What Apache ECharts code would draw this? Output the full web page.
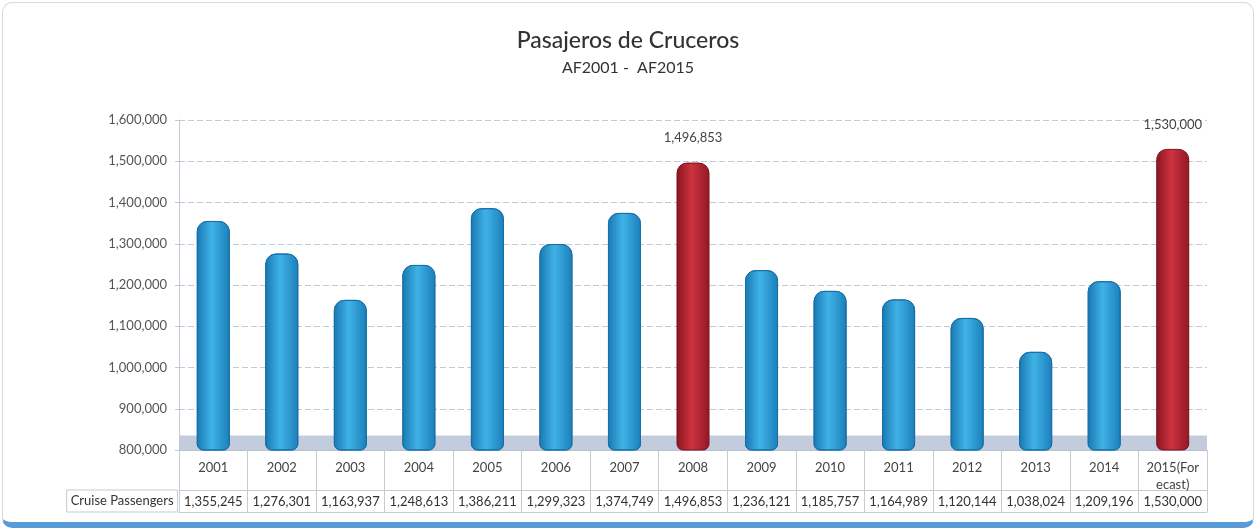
<!DOCTYPE html>
<html>
<head>
<meta charset="utf-8">
<script src="https://cdn.jsdelivr.net/npm/echarts@6/dist/echarts.min.js"></script>
<style>
  html, body { margin: 0; padding: 0; background: #ffffff; }
  #main {
    width: 1250px; height: 519px;
    margin: 2px 2px 0 2px;
    border: 1px solid #d3dae4;
    border-bottom: 6px solid #5a9ad6;
    border-radius: 10px;
    background: #ffffff;
  }
</style>
</head>
<body>
<div id="main"></div>
<script>
// datos del grafico
var years = ['2001', '2002', '2003', '2004', '2005', '2006', '2007', '2008',
             '2009', '2010', '2011', '2012', '2013', '2014', '2015(For\necast)'];
var passengers = [1355245, 1276301, 1163937, 1248613, 1386211, 1299323, 1374749, 1496853,
                  1236121, 1185757, 1164989, 1120144, 1038024, 1209196, 1530000];
var highlighted = ['2008', '2015(For\necast)'];
var yTicks = [800000, 1600000, 100000]; // min, max, interval
var floorRange = [800000, 835000];

function fmt (v) {
  return String(v).replace(/\B(?=(\d{3})+(?!\d))/g, ',');
}

var blue = new echarts.graphic.LinearGradient(0, 0, 1, 0, [
  { offset: 0, color: '#1a78b2' },
  { offset: 0.45, color: '#3fb2e6' },
  { offset: 1, color: '#1c7fba' }
]);
var red = new echarts.graphic.LinearGradient(0, 0, 1, 0, [
  { offset: 0, color: '#8a1420' },
  { offset: 0.45, color: '#cc3340' },
  { offset: 1, color: '#931824' }
]);

var barData = passengers.map(function (v, i) {
  var hi = highlighted.indexOf(years[i]) >= 0;
  return {
    value: v,
    itemStyle: { color: hi ? red : blue, borderColor: hi ? '#7a101a' : '#176fa6', borderWidth: 1 },
    label: { show: hi }
  };
});

var font = 'Lato, "Open Sans", sans-serif';
var myChart = echarts.init(document.getElementById('main'));
myChart.setOption({
  textStyle: { fontFamily: font },
  title: {
    text: 'Pasajeros de Cruceros',
    subtext: 'AF2001 -  AF2015',
    left: 'center',
    top: 21,
    itemGap: 8,
    textStyle: { fontSize: 23, fontWeight: 500, color: '#333', fontFamily: font },
    subtextStyle: { fontSize: 16, color: '#333', fontFamily: font }
  },
  grid: { left: 176, right: 46, top: 117, bottom: 72 },
  yAxis: {
    type: 'value',
    min: yTicks[0],
    max: yTicks[1],
    interval: yTicks[2],
    axisLine: { show: true, lineStyle: { color: '#c4ccd6' } },
    axisTick: { show: true, length: 4, lineStyle: { color: '#c4ccd6' } },
    axisLabel: { color: '#555', fontSize: 13, margin: 12, formatter: fmt },
    splitLine: { lineStyle: { color: '#bccadb', type: [6, 3] } }
  },
  xAxis: [
    {
      type: 'category',
      data: years,
      position: 'bottom',
      axisLine: { show: true, lineStyle: { color: '#b8c0cc' } },
      axisTick: { show: true, interval: 0, length: 40, lineStyle: { color: '#c4ccd6' } },
      axisLabel: { color: '#444', fontSize: 13, margin: 9, interval: 0, lineHeight: 17, verticalAlign: 'top' }
    },
    {
      type: 'category',
      data: years,
      position: 'bottom',
      offset: 40,
      name: 'Cruise Passengers',
      nameLocation: 'start',
      nameGap: 0,
      nameTextStyle: {
        color: '#333', fontSize: 13, align: 'right', verticalAlign: 'top',
        borderColor: '#c4ccd6', borderWidth: 1, padding: [4, 4, 3, 4], height: 15
      },
      axisLine: { show: true, lineStyle: { color: '#c4ccd6' } },
      axisTick: { show: true, interval: 0, length: 22, lineStyle: { color: '#c4ccd6' } },
      axisLabel: {
        color: '#333', fontSize: 13, margin: 5, interval: 0,
        formatter: function (v, i) { return fmt(passengers[i]); }
      }
    },
    {
      type: 'category',
      data: years,
      position: 'bottom',
      offset: 62,
      axisLine: { show: true, lineStyle: { color: '#c4ccd6' } },
      axisTick: { show: false },
      axisLabel: { show: false }
    }
  ],
  series: [
    {
      name: 'Cruise Passengers',
      type: 'bar',
      xAxisIndex: 0,
      barWidth: 33,
      data: barData,
      itemStyle: { borderRadius: [10, 10, 6, 6] },
      label: {
        position: 'top',
        distance: 18,
        color: '#444',
        fontSize: 13,
        formatter: function (p) { return fmt(p.value); }
      },
      markArea: {
        silent: true,
        itemStyle: { color: '#bcc6d8', opacity: 0.9 },
        data: [[{ yAxis: floorRange[0] }, { yAxis: floorRange[1] }]]
      },
      z: 3
    }
  ]
});
</script>
</body>
</html>
